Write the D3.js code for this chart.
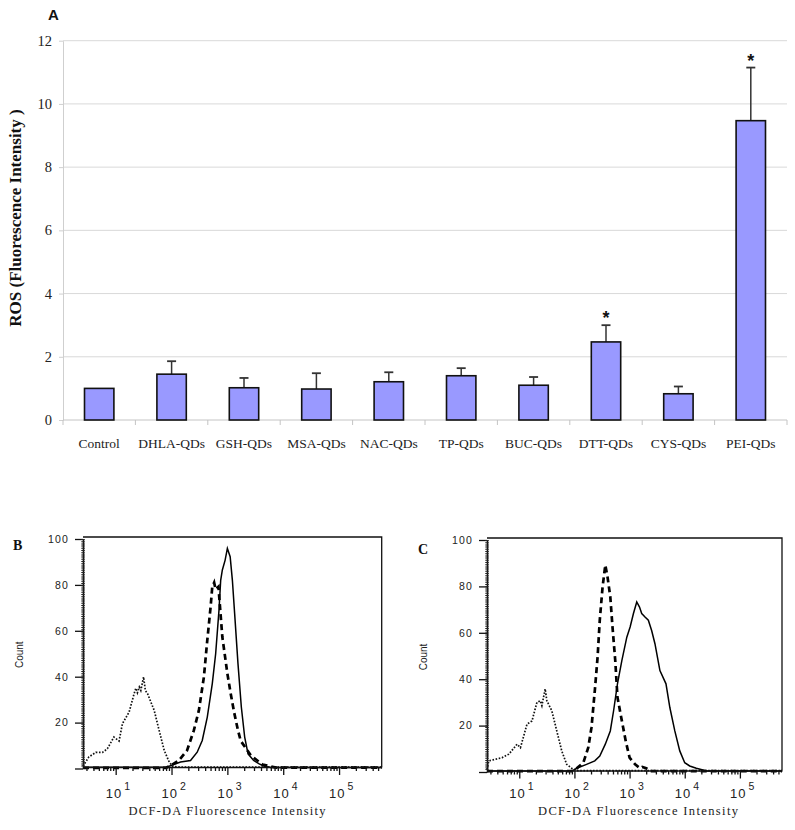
<!DOCTYPE html>
<html>
<head>
<meta charset="utf-8">
<script src="https://cdn.jsdelivr.net/npm/d3@7"></script>
<style>
  body { margin: 0; background: #fff; }
</style>
</head>
<body>
<div id="chart"></div>
<script>
// ---- panel A: ROS bar chart ----
const categories = ["Control", "DHLA-QDs", "GSH-QDs", "MSA-QDs", "NAC-QDs",
  "TP-QDs", "BUC-QDs", "DTT-QDs", "CYS-QDs", "PEI-QDs"];
const rosMean = [1.0, 1.45, 1.02, 0.98, 1.21, 1.40, 1.10, 2.47, 0.83, 9.47];
const rosErr = [0, 0.41, 0.31, 0.50, 0.30, 0.24, 0.26, 0.53, 0.23, 1.68];
const significance = ["", "", "", "", "", "", "", "*", "", "*"];
const yTicksA = [0, 2, 4, 6, 8, 10, 12];

// ---- panels B and C: flow histograms, [intensity, count] ----
const countTicks = [0, 20, 40, 60, 80, 100];
const decades = [1, 2, 3, 4, 5];

const bDotted = [[2.6, 1], [3.3, 5], [4.4, 7], [5.8, 7], [7.1, 8.6], [9.3, 13.7], [11.5, 12],
  [13.2, 19.5], [17.4, 24.6], [21.4, 32.6], [23, 35], [24.5, 33], [26.5, 35.5], [28.2, 34],
  [31.6, 39.9], [34, 34], [37.2, 32.6], [49, 25.3], [60, 16.6], [74, 7.9], [91, 2.8],
  [105, 0.9], [150, 0.6], [1000, 0.6], [580000, 0.6]];
const bDashed = [[2.6, 0.3], [80, 0.3], [98, 1.3], [135, 3.5], [190, 7.9], [251, 16.6],
  [309, 25.3], [380, 39.9], [437, 55.9], [501, 70.4], [537, 79.2], [580, 81], [617, 78],
  [692, 79.2], [813, 57.3], [1000, 41.4], [1148, 32.6], [1318, 24.6], [1549, 16.6],
  [1738, 12], [2630, 5.7], [4266, 1.7], [7413, 0.4], [580000, 0.4]];
const bSolid = [[2.6, 0.5], [80, 0.5], [98, 1.3], [145, 2.8], [219, 3.5], [288, 7.1],
  [355, 12.2], [437, 22.4], [537, 37], [617, 50], [708, 69], [759, 82], [813, 86.5],
  [912, 90.8], [1000, 95.9], [1122, 92.3], [1230, 82], [1349, 67.6], [1549, 45.7],
  [1778, 26.8], [2042, 13.7], [2344, 6.4], [2951, 3.5], [3715, 2], [4571, 1],
  [6000, 0.4], [580000, 0.4]];

const cDotted = [[2.6, 1], [2.8, 4.8], [3.7, 5.5], [4.9, 6.2], [6.5, 7.7], [9.1, 12],
  [10.5, 10.5], [13.8, 20.6], [17, 22], [20.9, 30], [24, 30.7], [25.7, 28.6], [29.5, 35.8],
  [31.6, 30.7], [38.9, 26.4], [47.9, 17.7], [58.9, 9.1], [72.4, 3.3], [89.1, 1.6],
  [110, 0.6], [580000, 0.6]];
const cDashed = [[2.6, 0.4], [90, 0.4], [110, 1.6], [145, 4], [178, 10.5], [204, 19.2],
  [234, 35], [263, 49.5], [288, 65.4], [324, 79.8], [363, 89.2], [398, 84.1], [447, 75.5],
  [490, 62.5], [550, 48], [603, 32.2], [724, 22.1], [851, 13.4], [1000, 6.2], [1259, 3.3],
  [1549, 1.6], [1700, 2.2], [2000, 1.6], [2400, 0.4], [580000, 0.4]];
const cSolid = [[2.6, 0.4], [90, 0.4], [110, 1.6], [166, 3.3], [234, 4.8], [288, 6.9],
  [363, 12], [447, 17.7], [513, 26.4], [603, 38], [724, 48], [891, 58.1], [1023, 62.5],
  [1175, 68.3], [1349, 73.3], [1514, 71.1], [1660, 68.3], [1905, 66.8], [2188, 65.4],
  [2512, 61], [2884, 55.3], [3548, 43.7], [4571, 38], [5370, 27.8], [6607, 17.7],
  [8128, 9.1], [10000, 4], [12300, 2.6], [16200, 1.6], [25000, 0.4], [580000, 0.4]];

const svg = d3.select("#chart")
  .append("svg")
  .attr("width", 795)
  .attr("height", 830);

svg.append("rect").attr("width", 795).attr("height", 830).attr("fill", "#fff");

// ================= Panel A =================
const x = d3.scaleBand()
  .domain(categories)
  .range([63, 787])
  .paddingInner(0.594)
  .paddingOuter(0.297);

const y = d3.scaleLinear()
  .domain([0, 12])
  .range([420, 40.7]);

const gA = svg.append("g");

// gridlines
gA.selectAll(".grid")
  .data(yTicksA.filter(d => d > 0))
  .enter()
  .append("line")
  .attr("x1", 63).attr("x2", 787)
  .attr("y1", d => y(d)).attr("y2", d => y(d))
  .attr("stroke", "#d9d9d9")
  .attr("stroke-width", 1);

// y axis
const yAxis = gA.append("g")
  .attr("transform", "translate(63,0)")
  .call(d3.axisLeft(y).tickValues(yTicksA).tickSize(4).tickPadding(7).tickSizeOuter(0));
yAxis.select(".domain").attr("stroke", "#cfcfcf");
yAxis.selectAll(".tick line").attr("stroke", "#cfcfcf");
yAxis.selectAll("text")
  .style("font-family", "'Liberation Serif', 'Times New Roman', serif")
  .style("font-size", "14.5px")
  .attr("fill", "#222");

// x baseline and category separators
gA.append("line")
  .attr("x1", 63).attr("x2", 787)
  .attr("y1", y(0)).attr("y2", y(0))
  .attr("stroke", "#c4c4c4");

const gap = (x.step() - x.bandwidth()) / 2;
const seps = categories.map(c => x(c) - gap).concat([x(categories[categories.length - 1]) + x.bandwidth() + gap]);
gA.selectAll(".sep")
  .data(seps)
  .enter()
  .append("line")
  .attr("x1", d => d).attr("x2", d => d)
  .attr("y1", y(0)).attr("y2", y(0) + 5)
  .attr("stroke", "#c4c4c4");

// category labels
gA.selectAll(".cat")
  .data(categories)
  .enter()
  .append("text")
  .attr("x", d => x(d) + x.bandwidth() / 2)
  .attr("y", 448)
  .attr("text-anchor", "middle")
  .style("font-family", "'Liberation Serif', 'Times New Roman', serif")
  .style("font-size", "13.5px")
  .attr("fill", "#222")
  .text(d => d);

// error bars
const errG = gA.selectAll(".err")
  .data(categories.filter((c, i) => rosErr[i] > 0))
  .enter()
  .append("g");
errG.append("line")
  .attr("x1", d => x(d) + x.bandwidth() / 2)
  .attr("x2", d => x(d) + x.bandwidth() / 2)
  .attr("y1", d => y(rosMean[categories.indexOf(d)]))
  .attr("y2", d => { const i = categories.indexOf(d); return y(rosMean[i] + rosErr[i]); })
  .attr("stroke", "#333")
  .attr("stroke-width", 1.5);
errG.append("line")
  .attr("x1", d => x(d) + x.bandwidth() / 2 - 4.5)
  .attr("x2", d => x(d) + x.bandwidth() / 2 + 4.5)
  .attr("y1", d => { const i = categories.indexOf(d); return y(rosMean[i] + rosErr[i]); })
  .attr("y2", d => { const i = categories.indexOf(d); return y(rosMean[i] + rosErr[i]); })
  .attr("stroke", "#333")
  .attr("stroke-width", 1.8);

// bars
gA.selectAll(".bar")
  .data(categories)
  .enter()
  .append("rect")
  .attr("x", d => x(d))
  .attr("width", x.bandwidth())
  .attr("y", (d, i) => y(rosMean[i]))
  .attr("height", (d, i) => y(0) - y(rosMean[i]))
  .attr("fill", "#9999ff")
  .attr("stroke", "#111")
  .attr("stroke-width", 1.6);

// significance stars
gA.selectAll(".star")
  .data(categories)
  .enter()
  .append("text")
  .attr("x", d => x(d) + x.bandwidth() / 2)
  .attr("y", (d, i) => y(rosMean[i] + rosErr[i]) - 1)
  .attr("text-anchor", "middle")
  .style("font-family", "'Liberation Sans', Arial, sans-serif")
  .style("font-size", "18px")
  .style("font-weight", "bold")
  .attr("fill", "#111")
  .text((d, i) => significance[i]);

// y title
gA.append("text")
  .attr("transform", "translate(21,218) rotate(-90)")
  .attr("text-anchor", "middle")
  .style("font-family", "'Liberation Serif', 'Times New Roman', serif")
  .style("font-size", "17px")
  .style("font-weight", "bold")
  .attr("fill", "#111")
  .text("ROS (Fluorescence Intensity )");

gA.append("text")
  .attr("x", 48).attr("y", 20)
  .style("font-family", "'Liberation Sans', Arial, sans-serif")
  .style("font-size", "15px")
  .style("font-weight", "bold")
  .attr("fill", "#111")
  .text("A");

// ================= Panels B and C =================
function drawFlow(p) {
  const g = svg.append("g");
  const fx = d3.scaleLog().domain([2.6, 580000]).range([p.left, p.right]);
  const fy = d3.scaleLinear().domain([0, 100]).range([p.y0, p.y100]);
  const axisY = p.y0 - 1.5;

  // curves
  const line = d3.line().x(d => fx(d[0])).y(d => fy(d[1]));
  g.append("path").datum(p.dotted).attr("d", line)
    .attr("fill", "none").attr("stroke", "#111")
    .attr("stroke-width", 1.7).attr("stroke-dasharray", "1.6,1.6");
  g.append("path").datum(p.dashed).attr("d", line)
    .attr("fill", "none").attr("stroke", "#000")
    .attr("stroke-width", 2.7).attr("stroke-dasharray", "6,4");
  g.append("path").datum(p.solid).attr("d", line)
    .attr("fill", "none").attr("stroke", "#000")
    .attr("stroke-width", 1.5);

  // frame top and right
  g.append("path")
    .attr("d", "M" + p.left + "," + (p.y100 - 2) + "H" + p.right + "V" + axisY)
    .attr("fill", "none").attr("stroke", "#111").attr("stroke-width", 1.3);

  // x axis with log ticks
  const xa = g.append("g")
    .attr("transform", "translate(0," + axisY + ")")
    .call(d3.axisBottom(fx).tickValues(fx.ticks()).tickFormat("").tickSize(4).tickSizeOuter(0));
  xa.select(".domain").attr("stroke", "#111").attr("stroke-width", 1.6);
  xa.selectAll(".tick line")
    .attr("stroke", "#111").attr("stroke-width", 1.3)
    .attr("y2", d => Math.abs(Math.log10(d) - Math.round(Math.log10(d))) < 1e-6 ? 8 : 4);

  // decade labels
  const lab = g.selectAll(".dec")
    .data(decades)
    .enter()
    .append("g")
    .attr("transform", d => "translate(" + fx(Math.pow(10, d)) + ",0)");
  lab.append("text")
    .attr("x", 6.5).attr("y", 798)
    .attr("text-anchor", "end")
    .style("font-family", "'Liberation Sans', Arial, sans-serif")
    .style("font-size", "13px")
    .style("letter-spacing", "1px")
    .attr("fill", "#222")
    .text("10");
  lab.append("text")
    .attr("x", 8.5).attr("y", 790)
    .style("font-family", "'Liberation Sans', Arial, sans-serif")
    .style("font-size", "10.5px")
    .attr("fill", "#222")
    .text(d => d);

  // y axis
  const ya = g.append("g")
    .attr("transform", "translate(" + p.left + ",0)")
    .call(d3.axisLeft(fy).tickValues(countTicks).tickSize(8).tickPadding(6).tickSizeOuter(0)
      .tickFormat(d => d === 0 ? "" : d));
  ya.select(".domain").attr("stroke", "#111").attr("stroke-width", 1.6);
  ya.selectAll(".tick line").attr("stroke", "#111").attr("stroke-width", 1.3);
  ya.selectAll("text")
    .style("font-family", "'Liberation Sans', Arial, sans-serif")
    .style("font-size", "10.5px")
    .style("letter-spacing", "1.2px")
    .attr("fill", "#222");
  // hatched look of the count axis
  g.append("line")
    .attr("x1", p.left).attr("x2", p.left)
    .attr("y1", p.y100).attr("y2", axisY)
    .attr("stroke", "#222").attr("stroke-width", 3.5)
    .attr("stroke-dasharray", "1,1.2");

  g.append("text")
    .attr("transform", "translate(" + (p.left - 60) + "," + ((p.y0 + p.y100) / 2 + 1) + ") rotate(-90)")
    .attr("text-anchor", "middle")
    .style("font-family", "'Liberation Sans', Arial, sans-serif")
    .style("font-size", "10px")
    .attr("fill", "#222")
    .text("Count");

  g.append("text")
    .attr("x", p.titleX).attr("y", 815)
    .attr("text-anchor", "middle")
    .attr("textLength", p.titleW)
    .attr("lengthAdjust", "spacing")
    .style("font-family", "'Liberation Serif', 'Times New Roman', serif")
    .style("font-size", "12.5px")
    .attr("fill", "#222")
    .text("DCF-DA Fluorescence Intensity");

  g.append("text")
    .attr("x", p.letterX).attr("y", p.letterY)
    .style("font-family", "'Liberation Serif', 'Times New Roman', serif")
    .style("font-size", "14px")
    .style("font-weight", "bold")
    .attr("fill", "#111")
    .text(p.letter);
}

drawFlow({ left: 83, right: 381.7, y0: 768.5, y100: 539,
  dotted: bDotted, dashed: bDashed, solid: bSolid,
  titleX: 227, titleW: 197, letter: "B", letterX: 13, letterY: 550 });

drawFlow({ left: 487, right: 782, y0: 772, y100: 540,
  dotted: cDotted, dashed: cDashed, solid: cSolid,
  titleX: 638, titleW: 200, letter: "C", letterX: 418, letterY: 554 });
</script>
</body>
</html>
